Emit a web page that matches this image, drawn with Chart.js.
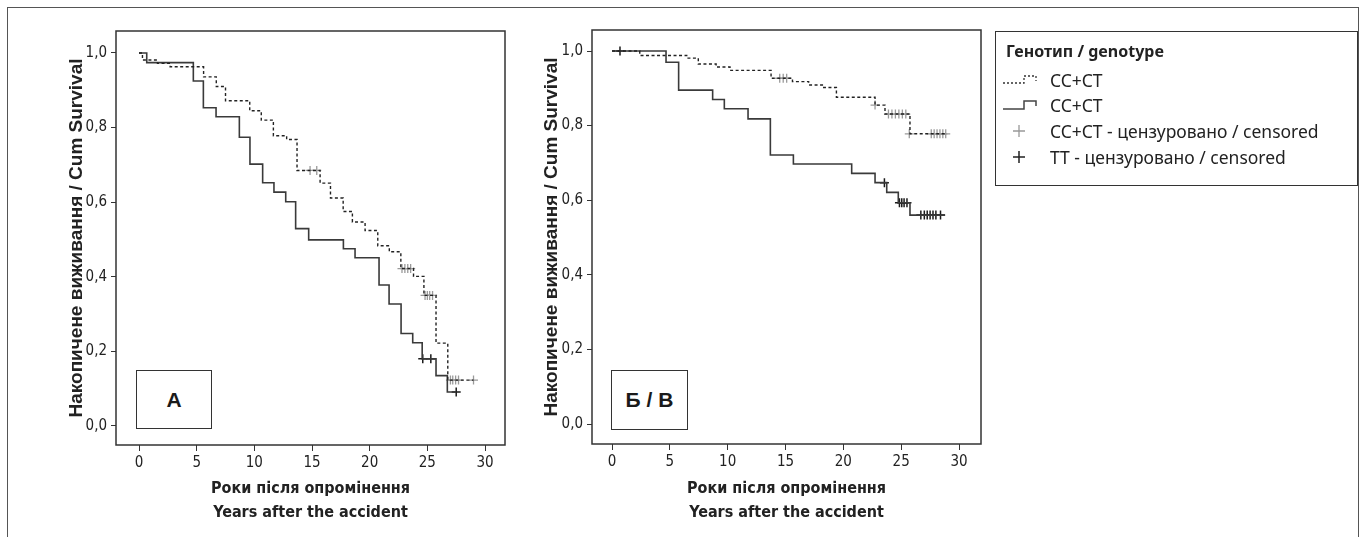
<!DOCTYPE html>
<html>
<head>
<meta charset="utf-8">
<script src="https://cdn.jsdelivr.net/npm/chart.js@4.4.1/dist/chart.umd.min.js"></script>
<style>
  body { margin: 0; background: #fff; width: 1369px; height: 537px; overflow: hidden; position: relative; }
  .outer { position: absolute; left: 7px; top: 7px; width: 1350px; height: 600px; border: 1px solid #555; }
  canvas { position: absolute; top: 0; }
  #chartA { left: 56px; }
  #chartB { left: 532px; }
  .tag { position: absolute; box-sizing: border-box; border: 1.5px solid #333; background: #fff;
         font: bold 21px "Liberation Sans", Arial, sans-serif; color: #1a1a1a;
         display: flex; align-items: center; justify-content: center; }
  .legend { position: absolute; left: 995px; top: 31px; width: 363px; height: 155px; box-sizing: border-box;
            border: 1.5px solid #333; font-family: "Noto Sans", "Open Sans", sans-serif; color: #222; }
  .legend .row { position: absolute; left: 0; height: 24px; line-height: 24px; font-size: 17.5px; white-space: nowrap; }
  .legend .row span { position: absolute; left: 54px; }
  .legend .row svg { position: absolute; left: 6px; top: 4px; }
  .legend .title { left: 10px; font-weight: bold; font-size: 16px; }
</style>
</head>
<body>
<div class="outer"></div>
<canvas id="chartA" width="474" height="537"></canvas>
<canvas id="chartB" width="474" height="537"></canvas>

<div class="tag" style="left:136px; top:370px; width:76px; height:59px;">А</div>
<div class="tag" style="left:611px; top:370px; width:77px; height:60px;">Б / В</div>

<div class="legend">
  <div class="row title" style="top:7px;">Генотип / genotype</div>
  <div class="row" style="top:36px;">
    <svg width="40" height="16"><polyline points="1,11 22,11 22,4 34,4 34,9" fill="none" stroke="#333" stroke-width="1.3" stroke-dasharray="2,2"/></svg>
    <span>CC+CT</span>
  </div>
  <div class="row" style="top:61px;">
    <svg width="40" height="16"><polyline points="1,12 22,12 22,4 34,4 34,9" fill="none" stroke="#444" stroke-width="1.5"/></svg>
    <span>CC+CT</span>
  </div>
  <div class="row" style="top:87px;">
    <svg width="40" height="16"><path d="M11,8 H23 M17,2 V14" stroke="#999" stroke-width="1.3"/></svg>
    <span>CC+CT - цензуровано / censored</span>
  </div>
  <div class="row" style="top:113px;">
    <svg width="40" height="16"><path d="M11,8 H23 M17,2 V14" stroke="#222" stroke-width="1.5"/></svg>
    <span>TT - цензуровано / censored</span>
  </div>
</div>

<script>
// axis ticks
const xTicks = [0, 5, 10, 15, 20, 25, 30];
const yTicks = [0, 0.2, 0.4, 0.6, 0.8, 1.0];

// panel A - CC+CT (dotted)
const aCcTime = [0, 0.3, 1.6, 2.7, 5.6, 6.7, 7.5, 9.6, 10.6, 11.65, 12.8, 13.7, 15.7, 16.6, 17.7, 18.5, 19.6, 20.7, 21.7, 22.7, 23.8, 24.7, 25.75, 26.77, 29.0];
const aCcSurv = [1.0, 0.981, 0.972, 0.963, 0.936, 0.910, 0.872, 0.845, 0.820, 0.778, 0.768, 0.685, 0.651, 0.611, 0.575, 0.547, 0.524, 0.483, 0.467, 0.422, 0.401, 0.350, 0.222, 0.123, 0.123];
// panel A - TT (solid)
const aTtTime = [0, 0.67, 4.71, 5.58, 6.68, 8.7, 9.62, 10.72, 11.7, 12.72, 13.58, 14.71, 17.72, 18.73, 20.81, 21.68, 22.72, 23.73, 24.55, 25.75, 26.73, 27.5];
const aTtSurv = [1.0, 0.974, 0.925, 0.853, 0.829, 0.774, 0.702, 0.652, 0.627, 0.601, 0.529, 0.499, 0.475, 0.451, 0.378, 0.327, 0.248, 0.223, 0.180, 0.135, 0.091, 0.091];
// panel A - censored
const aCcCensTime = [14.83, 15.41, 22.8, 23.05, 23.3, 23.55, 24.8, 25.0, 25.2, 25.45, 27.0, 27.2, 27.45, 27.7, 29.0];
const aCcCensSurv = [0.685, 0.685, 0.422, 0.422, 0.422, 0.422, 0.350, 0.350, 0.350, 0.350, 0.123, 0.123, 0.123, 0.123, 0.123];
const aTtCensTime = [24.6, 25.3, 27.5];
const aTtCensSurv = [0.180, 0.180, 0.091];

// panel B - CC+CT (dotted)
const bCcTime = [0, 2.4, 6.46, 7.46, 9.0, 10.2, 13.75, 15.6, 17.0, 18.3, 19.4, 22.74, 23.6, 25.76, 28.9];
const bCcSurv = [1.0, 0.988, 0.981, 0.965, 0.957, 0.948, 0.927, 0.918, 0.909, 0.902, 0.876, 0.855, 0.831, 0.778, 0.778];
// panel B - TT (solid)
const bTtTime = [0, 4.67, 5.76, 8.7, 9.71, 11.76, 13.69, 15.68, 20.72, 22.74, 23.75, 24.75, 25.76, 28.8];
const bTtSurv = [1.0, 0.970, 0.895, 0.870, 0.845, 0.818, 0.721, 0.697, 0.672, 0.647, 0.621, 0.593, 0.560, 0.560];
// panel B - censored
const bCcCensTime = [14.5, 14.8, 15.1, 22.74, 23.9, 24.2, 24.5, 24.8, 25.1, 25.4, 25.7, 27.6, 27.85, 28.1, 28.35, 28.6, 28.85];
const bCcCensSurv = [0.927, 0.927, 0.927, 0.855, 0.831, 0.831, 0.831, 0.831, 0.831, 0.831, 0.778, 0.778, 0.778, 0.778, 0.778, 0.778, 0.778];
const bTtCensTime = [0.69, 23.55, 24.85, 25.05, 25.25, 25.5, 26.7, 27.0, 27.25, 27.5, 27.75, 28.0, 28.4];
const bTtCensSurv = [1.0, 0.647, 0.593, 0.593, 0.593, 0.593, 0.560, 0.560, 0.560, 0.560, 0.560, 0.560, 0.560];

const narrow = "'Liberation Sans Narrow', 'DejaVu Sans Condensed', sans-serif";
Chart.defaults.font.family = narrow;
Chart.defaults.color = '#222';

const pts = (xs, ys) => xs.map((x, i) => ({ x: x, y: ys[i] }));

// box round the plot area
const frameBox = {
  id: 'frameBox',
  afterDraw(chart) {
    const { ctx, chartArea: a } = chart;
    ctx.save();
    ctx.strokeStyle = '#333';
    ctx.lineWidth = 1.5;
    ctx.strokeRect(a.left, a.top, a.right - a.left, a.bottom - a.top);
    ctx.restore();
  }
};

function makePanel(id, series, xr, yr, padTop, xHeight, titlePad) {
  return new Chart(document.getElementById(id), {
    type: 'line',
    data: {
      datasets: [
        { label: 'CC+CT', data: pts(series[0], series[1]), stepped: true, borderColor: '#222',
          borderWidth: 1.4, borderDash: [3, 2.5], pointRadius: 0, fill: false },
        { label: 'CC+CT', data: pts(series[2], series[3]), stepped: true, borderColor: '#3a3a3a',
          borderWidth: 1.6, pointRadius: 0, fill: false },
        { label: 'CC+CT - цензуровано / censored', data: pts(series[4], series[5]), showLine: false,
          pointStyle: 'cross', pointRadius: 4.5, pointBorderWidth: 1.3, borderColor: '#9a9a9a' },
        { label: 'TT - цензуровано / censored', data: pts(series[6], series[7]), showLine: false,
          pointStyle: 'cross', pointRadius: 4.5, pointBorderWidth: 1.5, borderColor: '#1a1a1a' }
      ]
    },
    options: {
      responsive: false,
      animation: false,
      layout: { padding: { top: padTop, right: 25, left: 0, bottom: 0 } },
      plugins: { legend: { display: false }, tooltip: { enabled: false } },
      scales: {
        x: {
          type: 'linear', min: xr[0], max: xr[1],
          afterBuildTicks: s => { s.ticks = xTicks.map(v => ({ value: v })); },
          afterFit: s => { s.height = xHeight; },
          grid: { drawOnChartArea: false, drawTicks: true, tickLength: 6, color: '#333', lineWidth: 1 },
          border: { display: false },
          ticks: { font: { size: 15 }, padding: 3, maxRotation: 0, callback: v => String(v) },
          title: { display: true, text: ['Роки після опромінення', 'Years after the accident'],
                   font: { size: 16, weight: 'bold', lineHeight: 1.5 }, padding: { top: 0, bottom: 12 } }
        },
        y: {
          type: 'linear', min: yr[0], max: yr[1],
          afterBuildTicks: s => { s.ticks = yTicks.map(v => ({ value: v })); },
          afterFit: s => { s.width = 60; },
          grid: { drawOnChartArea: false, drawTicks: true, tickLength: 5, color: '#333', lineWidth: 1 },
          border: { display: false },
          ticks: { font: { size: 15 }, padding: 4, callback: v => v.toFixed(1).replace('.', ',') },
          title: { display: true, text: 'Накопичене виживання / Cum Survival',
                   font: { family: "'Liberation Sans', Arial, sans-serif", size: 19, weight: 'bold', lineHeight: 1.2 },
                   padding: { top: titlePad, bottom: 0 } }
        }
      }
    },
    plugins: [frameBox]
  });
}

makePanel('chartA',
  [aCcTime, aCcSurv, aTtTime, aTtSurv, aCcCensTime, aCcCensSurv, aTtCensTime, aTtCensSurv],
  [-1.994, 31.73], [-0.051, 1.0589], 31, 92, 9);
makePanel('chartB',
  [bCcTime, bCcSurv, bTtTime, bTtSurv, bCcCensTime, bCcCensSurv, bTtCensTime, bTtCensSurv],
  [-1.73, 31.90], [-0.0536, 1.0563], 30, 93, 8);
</script>
</body>
</html>
